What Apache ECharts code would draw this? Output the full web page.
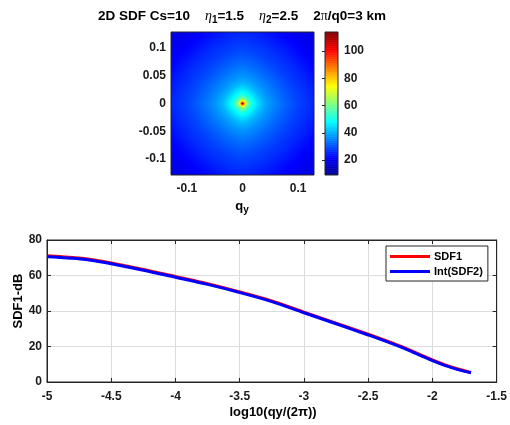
<!DOCTYPE html>
<html><head><meta charset="utf-8">
<script src="https://cdn.jsdelivr.net/npm/echarts@6/dist/echarts.min.js"></script>
<style>html,body{margin:0;padding:0;background:#fff}#c{width:510px;height:425px}</style>
</head><body><div id="c"></div>
<script>
// ---------------- data ----------------
// radial profile of the 2D SDF (radius in q units, value)
const heatRadius = [0, 0.0018, 0.0036, 0.0054, 0.0071, 0.0089, 0.0125, 0.0179, 0.025, 0.0357, 0.05, 0.0714, 0.0982, 0.1268, 0.1518, 0.18, 0.21];
const heatValue  = [114, 98, 84, 74, 67, 62, 56, 50, 46, 41, 37, 33, 29, 26, 23, 20, 18];
const heatYTicks = [-0.1, -0.05, 0, 0.05, 0.1];
const heatXTicks = [-0.1, 0, 0.1];
const colorbarTicks = [20, 40, 60, 80, 100];
const colorMin = 9, colorMax = 114;

const logQ    = [-5, -4.9, -4.8, -4.7, -4.6, -4.5, -4.25, -4.0, -3.75, -3.5, -3.25, -3.0, -2.75, -2.5, -2.25, -2.1, -2.0, -1.9, -1.8, -1.75, -1.7];
const sdf1    = [71.1, 70.7, 70.1, 69.4, 68.3, 67.0, 63.4, 59.4, 55.4, 50.8, 45.7, 39.4, 33.2, 26.9, 20.2, 15.6, 12.4, 9.6, 7.3, 6.3, 5.4];
const intSdf2 = [70.6, 70.2, 69.7, 69.0, 67.9, 66.6, 63.0, 59.0, 55.0, 50.4, 45.3, 39.0, 32.8, 26.5, 19.8, 15.2, 12.0, 9.2, 7.0, 6.0, 5.2];

// ---------------- build ----------------
const Q = 0.1286, N = 143, STEP = 2 * Q / N, P = 1.5;
function profileAt(r) {
  for (let k = 1; k < heatRadius.length; k++) {
    if (r <= heatRadius[k]) {
      const t = (r - heatRadius[k - 1]) / (heatRadius[k] - heatRadius[k - 1]);
      return heatValue[k - 1] + t * (heatValue[k] - heatValue[k - 1]);
    }
  }
  return heatValue[heatValue.length - 1];
}
const heatData = [];
for (let i = 0; i < N; i++) {
  for (let j = 0; j < N; j++) {
    const x = -Q + (i + 0.5) * STEP, y = -Q + (j + 0.5) * STEP;
    const r = Math.pow(Math.pow(Math.abs(x), P) + Math.pow(Math.abs(y), P), 1 / P);
    heatData.push([x, y, profileAt(r)]);
  }
}
const CB_STEP = 0.5;
const cbData = [];
for (let v = colorMin; v < colorMax; v += CB_STEP) cbData.push([0, v, v + CB_STEP / 2]);

const FONT = 'Liberation Sans, Arial, Helvetica, sans-serif';
const DARK = '#262626';
const jet = ['#00008F', '#0000FF', '#0080FF', '#00FFFF', '#80FF80', '#FFFF00', '#FF8000', '#FF0000', '#800000'];
const tickLabel = { fontFamily: FONT, fontWeight: 'bold', fontSize: 12, color: '#1a1a1a' };

const chart = echarts.init(document.getElementById('c'), null, { renderer: 'canvas' });
chart.setOption({
  animation: false,
  backgroundColor: '#fff',
  grid: [
    { left: 171, top: 32, width: 143, height: 143, show: true, borderColor: DARK, borderWidth: 1, z: 10 },
    { left: 325, top: 32, width: 13, height: 143, show: true, borderColor: DARK, borderWidth: 1, z: 10 },
    { left: 47, top: 240, right: 11, bottom: 43, show: true, borderColor: DARK, borderWidth: 1, z: 10 }
  ],
  visualMap: {
    type: 'continuous', show: false, min: colorMin, max: colorMax, dimension: 2,
    seriesIndex: [0, 1], inRange: { color: jet }
  },
  xAxis: [
    { gridIndex: 0, type: 'value', min: -Q, max: Q,
      axisLine: { show: false }, splitLine: { show: false },
      axisTick: { show: false },
      axisLabel: { customValues: heatXTicks, margin: 8, ...tickLabel } },
    { gridIndex: 1, type: 'value', min: 0, max: 1, show: false },
    { gridIndex: 2, type: 'value', min: -5, max: -1.5, interval: 0.5, position: 'bottom',
      axisLine: { show: true, onZero: false, lineStyle: { color: DARK } },
      axisTick: { show: true, inside: true, length: 4, lineStyle: { color: DARK } },
      splitLine: { show: true, lineStyle: { color: '#dcdcdc', width: 1 } },
      axisLabel: { margin: 9, ...tickLabel } },
    { gridIndex: 2, type: 'value', min: -5, max: -1.5, interval: 0.5, position: 'top',
      axisLine: { show: true, onZero: false, lineStyle: { color: DARK } },
      axisTick: { show: true, inside: true, length: 4, lineStyle: { color: DARK } },
      splitLine: { show: false }, axisLabel: { show: false } }
  ],
  yAxis: [
    { gridIndex: 0, type: 'value', min: -Q, max: Q,
      axisLine: { show: false }, splitLine: { show: false },
      axisTick: { show: false },
      axisLabel: { customValues: heatYTicks, margin: 5, ...tickLabel } },
    { gridIndex: 1, type: 'value', min: colorMin, max: colorMax, position: 'right',
      axisLine: { show: false }, splitLine: { show: false },
      axisTick: { show: true, inside: true, length: 3, customValues: colorbarTicks, lineStyle: { color: DARK } },
      axisLabel: { customValues: colorbarTicks, margin: 6, ...tickLabel }, z: 12 },
    { gridIndex: 2, type: 'value', min: 0, max: 80, interval: 20, position: 'left',
      axisLine: { show: true, onZero: false, lineStyle: { color: DARK } },
      axisTick: { show: true, inside: true, length: 4, lineStyle: { color: DARK } },
      splitLine: { show: true, lineStyle: { color: '#dcdcdc', width: 1 } },
      axisLabel: { margin: 5, ...tickLabel } },
    { gridIndex: 2, type: 'value', min: 0, max: 80, interval: 20, position: 'right',
      axisLine: { show: true, onZero: false, lineStyle: { color: DARK } },
      axisTick: { show: true, inside: true, length: 4, lineStyle: { color: DARK } },
      splitLine: { show: false }, axisLabel: { show: false } }
  ],
  legend: {
    orient: 'vertical', left: 386, top: 246, padding: [5, 5, 4, 4],
    itemWidth: 40, itemHeight: 3, itemGap: 4, icon: 'rect',
    backgroundColor: '#fff', borderColor: DARK, borderWidth: 1, z: 20,
    textStyle: { fontFamily: FONT, fontWeight: 'bold', fontSize: 11, color: '#000', padding: [0, 0, 0, -1] },
    data: ['SDF1', 'Int(SDF2)']
  },
  series: [
    { type: 'custom', xAxisIndex: 0, yAxisIndex: 0, data: heatData, clip: true,
      renderItem: function (params, api) {
        const x = api.value(0), y = api.value(1);
        const p0 = api.coord([x - STEP / 2, y + STEP / 2]);
        const p1 = api.coord([x + STEP / 2, y - STEP / 2]);
        return { type: 'rect', shape: { x: Math.round(p0[0]), y: Math.round(p0[1]),
                   width: Math.round(p1[0]) - Math.round(p0[0]), height: Math.round(p1[1]) - Math.round(p0[1]) },
                 style: { fill: api.visual('color') } };
      } },
    { type: 'custom', xAxisIndex: 1, yAxisIndex: 1, data: cbData, clip: true,
      renderItem: function (params, api) {
        const v = api.value(1);
        const p0 = api.coord([0, v + CB_STEP]);
        const p1 = api.coord([1, v]);
        return { type: 'rect', shape: { x: p0[0], y: p0[1], width: p1[0] - p0[0], height: p1[1] - p0[1] + 0.5 },
                 style: { fill: api.visual('color') } };
      } },
    { name: 'SDF1', type: 'line', xAxisIndex: 2, yAxisIndex: 2, smooth: 0.3, symbol: 'none',
      color: '#ff0000', lineStyle: { width: 3, color: '#ff0000' },
      data: logQ.map((x, i) => [x, sdf1[i]]) },
    { name: 'Int(SDF2)', type: 'line', xAxisIndex: 2, yAxisIndex: 2, smooth: 0.3, symbol: 'none',
      color: '#0000ff', lineStyle: { width: 3, color: '#0000ff' },
      data: logQ.map((x, i) => [x, intSdf2[i]]) }
  ],
  graphic: [
    { type: 'text', x: 242, y: 16, z: 30,
      style: {
        text: '{b|2D SDF Cs=10    }{e|η}{s|1}{b|=1.5    }{e|η}{s|2}{b|=2.5    2}{p|π}{b|/q0=3 km}',
        textAlign: 'center', textVerticalAlign: 'middle',
        rich: {
          b: { fontFamily: FONT, fontWeight: 'bold', fontSize: 13.5, fill: '#000' },
          e: { fontFamily: 'Liberation Serif, DejaVu Serif, serif', fontStyle: 'italic', fontSize: 14, fill: '#000' },
          s: { fontFamily: FONT, fontWeight: 'bold', fontSize: 10, fill: '#000', padding: [9, 0, 0, 0] },
          p: { fontFamily: 'Liberation Serif, DejaVu Serif, serif', fontSize: 14, fill: '#000' }
        }
      } },
    { type: 'text', x: 242, y: 206, z: 30,
      style: {
        text: '{b|q}{s|y}', textAlign: 'center', textVerticalAlign: 'middle',
        rich: {
          b: { fontFamily: FONT, fontWeight: 'bold', fontSize: 13, fill: '#000' },
          s: { fontFamily: FONT, fontWeight: 'bold', fontSize: 10, fill: '#000', padding: [9, 0, 0, 0] }
        }
      } },
    { type: 'text', x: 273, y: 412, z: 30,
      style: { text: 'log10(qy/(2π))', textAlign: 'center', textVerticalAlign: 'middle',
               fontFamily: FONT, fontWeight: 'bold', fontSize: 13, fill: '#000' } },
    { type: 'text', x: 18, y: 301, rotation: Math.PI / 2, z: 30,
      style: { text: 'SDF1-dB', textAlign: 'center', textVerticalAlign: 'middle',
               fontFamily: FONT, fontWeight: 'bold', fontSize: 13, fill: '#000' } }
  ]
});
</script>
</body></html>
